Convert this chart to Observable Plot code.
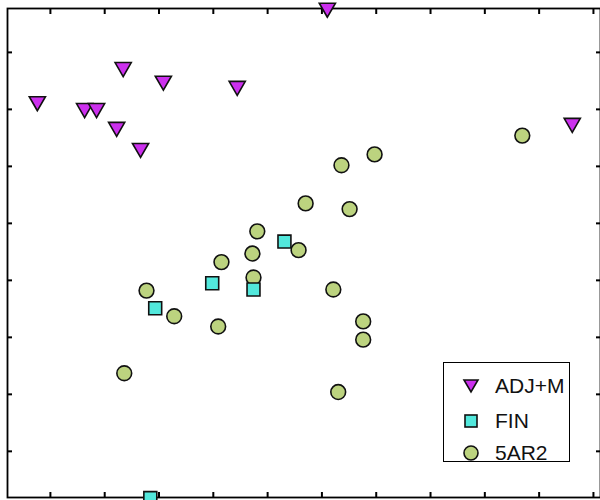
<!DOCTYPE html>
<html><head><meta charset="utf-8">
<script src="https://cdn.jsdelivr.net/npm/d3@7"></script>
<script src="https://cdn.jsdelivr.net/npm/@observablehq/plot@0.6"></script>
<style>
html,body{margin:0;padding:0;background:#fff;}
#wrap{position:relative;width:600px;height:500px;overflow:hidden;}
#legend{position:absolute;left:443px;top:362px;width:125px;height:98px;border:1.6px solid #000;background:#fff;font-family:"Liberation Sans",Arial,sans-serif;font-size:21px;color:#111;}
.row{position:absolute;left:0;height:30px;display:flex;align-items:center;}
.row svg{position:absolute;left:19px;}
.row span{position:absolute;left:51px;white-space:nowrap;}
</style></head>
<body><div id="wrap"><div id="chart"></div><div id="legend"></div></div>
<script>
const seriesNames = ["ADJ+M", "FIN", "5AR2"];
const colors = ["#cc30ee", "#52e8dc", "#bcd37f"];

const adjX = [-0.24, 0.63, 0.85, 1.34, 2.08, 1.22, 1.66, 3.44, 5.10, 9.61];
const adjY = [6.14, 6.02, 6.02, 6.74, 6.50, 5.69, 5.32, 6.41, 7.78, 5.76];

const finX = [1.93, 2.98, 3.74, 4.31, 1.84];
const finY = [2.51, 2.95, 2.84, 3.68, -0.82];

const arX = [8.69, 5.97, 5.36, 4.70, 5.51, 3.81, 3.72, 4.57, 3.15, 3.74, 1.77, 2.28, 3.09, 5.21, 5.76, 5.76, 1.36, 5.30];
const arY = [5.54, 5.21, 5.02, 4.35, 4.25, 3.86, 3.47, 3.53, 3.32, 3.05, 2.82, 2.37, 2.19, 2.84, 2.28, 1.96, 1.37, 1.04];

const xTicks = [0,1,2,3,4,5,6,7,8,9,10];
const yTicks = [0,1,2,3,4,5,6,7];

const adj = adjX.map((x,i)=>({x, y: adjY[i]}));
const fin = finX.map((x,i)=>({x, y: finY[i]}));
const ar = arX.map((x,i)=>({x, y: arY[i]}));

const axisCommon = {tickSize: -5, tickFormat: () => "", label: null, strokeWidth: 2, stroke: "#000"};

const chart = Plot.plot({
  width: 600, height: 500,
  marginLeft: 7, marginRight: 0, marginTop: 8, marginBottom: 3,
  x: {domain: [-0.79, 10.13], ticks: xTicks},
  y: {domain: [-0.81, 7.77], ticks: yTicks},
  style: {background: "#fff"},
  marks: [
    Plot.frame({stroke: "#000", strokeWidth: 1.8}),
    Plot.axisX(xTicks, {anchor: "bottom", ...axisCommon}),
    Plot.axisX(xTicks, {anchor: "top", ...axisCommon}),
    Plot.axisY(yTicks, {anchor: "left", ...axisCommon}),
    Plot.axisY(yTicks, {anchor: "right", ...axisCommon}),
    Plot.dot(ar, {x: "x", y: "y", r: 7.4, symbol: "circle", fill: colors[2], stroke: "#111", strokeWidth: 1.6}),
    Plot.dot(fin, {x: "x", y: "y", r: 7.3, symbol: "square", fill: colors[1], stroke: "#111", strokeWidth: 1.6}),
    Plot.dot(adj, {x: "x", y: "y", r: 6.0, symbol: "triangle", rotate: 180, fill: colors[0], stroke: "#111", strokeWidth: 1.6})
  ]
});
document.getElementById("chart").appendChild(chart);

// legend
const legend = document.getElementById("legend");
const shapes = [
  '<polygon points="1,2 15,2 8,14" />',
  '<rect x="2" y="2" width="12" height="12" />',
  '<circle cx="8" cy="8" r="7" />'
];
const rowTops = [8, 43, 75];
seriesNames.forEach((name, i) => {
  const row = document.createElement("div");
  row.className = "row";
  row.style.top = rowTops[i] + "px";
  row.innerHTML = `<svg width="16" height="16" viewBox="0 0 16 16" style="overflow:visible"><g fill="${colors[i]}" stroke="#111" stroke-width="1.6">${shapes[i]}</g></svg><span>${name}</span>`;
  legend.appendChild(row);
});
</script></body></html>
